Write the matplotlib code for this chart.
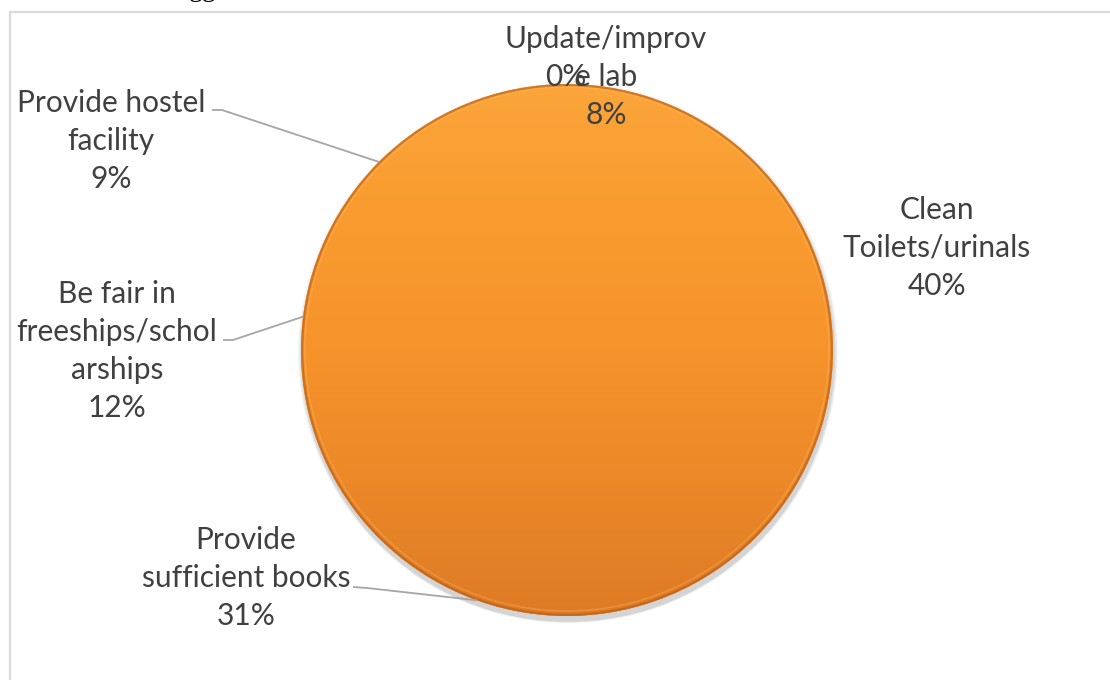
import numpy as np
import matplotlib
matplotlib.use("Agg")
import matplotlib.pyplot as plt
from matplotlib.colors import LinearSegmentedColormap
from matplotlib.patches import Circle, Rectangle

# data (clockwise from 12 o'clock)
categories = ["Clean\nToilets/urinals", "Provide\nsufficient books",
              "Be fair in\nfreeships/schol\narships", "Provide hostel\nfacility",
              "Update/improv\ne lab", ""]
shares = [40, 31, 12, 9, 8, 0]
pct_labels = ["40%", "31%", "12%", "9%", "8%", "0%"]

W, H = 1110, 680
TEXT = "#404040"
LEADER = "#a6a6a6"

fig = plt.figure(figsize=(W / 100, H / 100), dpi=100)
ax = fig.add_axes([0, 0, 1, 1])

def py(y):  # image-style y (from top) -> data y
    return H - y

cx, cy, r = 567, py(350), 266

wedges, _ = ax.pie(shares, center=(cx, cy), radius=r, startangle=90,
                   counterclock=False, colors=["#f7952c"] * len(shares),
                   wedgeprops=dict(linewidth=0), frame=True)
ax.set_xlim(0, W)
ax.set_ylim(0, H)
ax.set_aspect("equal")
ax.axis("off")

# chart frame
ax.add_patch(Rectangle((10, py(1000)), 1200, 1000 - 12, fill=False,
                       edgecolor="#d9d9d9", lw=1.6, zorder=0, clip_on=False))

# descenders of the caption above the chart
fig.text(203 / W, 1 + 4 / H, "gg", family="Liberation Serif", fontsize=20,
         ha="center", va="baseline", color="black")

# soft shadow under the pie
for k, a in enumerate([0.05, 0.06, 0.07, 0.09]):
    ax.add_patch(Circle((cx + 1, cy - 3 - k * 0.6), r + 4 - k, color="#555555",
                        alpha=a, lw=0, zorder=1))

# vertical orange gradient, one layer under the wedges (hides seams) and one per wedge
cmap = LinearSegmentedColormap.from_list(
    "org", ["#fba53a", "#f99b2f", "#f6932b", "#ec8828", "#de7a24"])
grad = np.linspace(0, 1, 256).reshape(-1, 1)
ext = (cx - r, cx + r, cy - r, cy + r)
base = ax.imshow(grad, cmap=cmap, extent=ext, origin="upper", aspect="auto", zorder=1.5)
disc = Circle((cx, cy), r, transform=ax.transData)
base.set_clip_path(disc)
for w in wedges:
    w.set_zorder(2)
    w.set_visible(False) if w.theta2 - w.theta1 == 0 else None
    im = ax.imshow(grad, cmap=cmap, extent=ext, origin="upper", aspect="auto", zorder=3)
    im.set_clip_path(w)
ax.set_xlim(0, W)
ax.set_ylim(0, H)
for w in wedges:
    w.set_alpha(0)

# darker bevel rim
ax.add_patch(Circle((cx, cy), r - 1.2, fill=False, edgecolor="#b45c1a",
                    lw=1.6, alpha=0.6, zorder=4))
ax.add_patch(Circle((cx, cy + 1), r - 4, fill=False, edgecolor="#fcc06a",
                    lw=1.2, alpha=0.3, zorder=4))

fs = 21.5
font = dict(family="Lato", fontsize=fs, color=TEXT, ha="center", va="center",
            linespacing=1.44, zorder=6)

def rim_point(w):
    mid = np.deg2rad((w.theta1 + w.theta2) / 2)
    return cx + r * np.cos(mid), cy + r * np.sin(mid)

# label positions (image coords of the text block centre) and leader anchors
label_pos = [(937, 248), (246, 578), (117, 351), (111, 141), (606, 77), (566, 77)]
anchors = [None, (353, 587), (223, 340), (212, 110), None, None]
knees = [None, (367, 588), (233, 340), (222, 110), None, None]

for i, w in enumerate(wedges):
    txt = (categories[i] + "\n" if categories[i] else "") + pct_labels[i]
    x, y = label_pos[i]
    ax.text(x, py(y), txt, **font)
    if anchors[i] is not None:
        ex, ey = rim_point(w)
        xs = [anchors[i][0], knees[i][0], ex]
        ys = [py(anchors[i][1]), py(knees[i][1]), ey]
        ax.plot(xs, ys, color=LEADER, lw=1.3, zorder=5, solid_capstyle="butt")

fig.savefig("out.png", dpi=100)
